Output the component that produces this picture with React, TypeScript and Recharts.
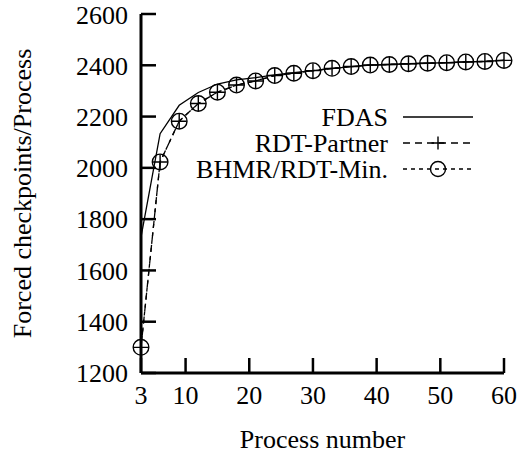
import { LineChart, Line, XAxis, YAxis, Legend } from "recharts";

// measurements per process count
const processCounts = [3, 6, 9, 12, 15, 18, 21, 24, 27, 30, 33, 36, 39, 42, 45, 48, 51, 54, 57, 60];
const fdas = [1730, 2133, 2244, 2294, 2327, 2343, 2352, 2363, 2371, 2379, 2387, 2395, 2401, 2403, 2406, 2408, 2410, 2413, 2415, 2419];
const rdtPartner = [1300, 2023, 2182, 2251, 2295, 2323, 2339, 2360, 2369, 2379, 2388, 2395, 2401, 2403, 2406, 2408, 2410, 2413, 2415, 2419];
const bhmrRdtMin = [1300, 2023, 2182, 2251, 2295, 2323, 2339, 2360, 2369, 2379, 2388, 2395, 2401, 2403, 2406, 2408, 2410, 2413, 2415, 2419];

const xTicks = [3, 10, 20, 30, 40, 50, 60];
const yTicks = [1200, 1400, 1600, 1800, 2000, 2200, 2400, 2600];

const data = processCounts.map((proc, i) => ({
  proc,
  fdas: fdas[i],
  rdtPartner: rdtPartner[i],
  bhmr: bhmrRdtMin[i],
}));

const FONT = '"Liberation Serif", "Times New Roman", serif';
const FS = 26;
const INK = "#000";

const plusPath = (cx: number, cy: number, s: number) =>
  `M${cx - s},${cy}H${cx + s}M${cx},${cy - s}V${cy + s}`;

const PlusDot = (props: any) => {
  const { cx, cy, index } = props;
  if (cx == null || cy == null) return null;
  return (
    <path key={`p-${index}`} d={plusPath(cx, cy, 7.5)} stroke={INK} strokeWidth={1.4} fill="none" />
  );
};

const CircleDot = (props: any) => {
  const { cx, cy, index } = props;
  if (cx == null || cy == null) return null;
  return <circle key={`c-${index}`} cx={cx} cy={cy} r={7.8} stroke={INK} strokeWidth={1.4} fill="none" />;
};

const legendItems = [
  { label: "FDAS", dash: undefined as string | undefined, marker: "none" },
  { label: "RDT-Partner", dash: "7 5", marker: "plus" },
  { label: "BHMR/RDT-Min.", dash: "4 4", marker: "circle" },
];

const renderLegend = () => (
  <svg width={522} height={80} style={{ display: "block" }}>
    {legendItems.map((item, i) => {
      const cy = 13 + i * 26;
      return (
        <g key={item.label}>
          <text
            x={388}
            y={cy}
            dy="0.35em"
            textAnchor="end"
            fontFamily={FONT}
            fontSize={FS}
            fill={INK}
          >
            {item.label}
          </text>
          <line x1={403} x2={473} y1={cy} y2={cy} stroke={INK} strokeWidth={1.3} strokeDasharray={item.dash} />
          {item.marker === "plus" && (
            <path d={plusPath(438, cy, 6.5)} stroke={INK} strokeWidth={1.4} fill="none" />
          )}
          {item.marker === "circle" && (
            <circle cx={438} cy={cy} r={7.5} stroke={INK} strokeWidth={1.4} fill="none" />
          )}
        </g>
      );
    })}
  </svg>
);

const tickStyle = { fontFamily: FONT, fontSize: FS, fill: INK };

export default function App() {
  return (
    <div style={{ position: "absolute", left: 0, top: 0, background: "#fff" }}>
      <LineChart
        width={522}
        height={457}
        data={data}
        margin={{ top: 14, right: 18, bottom: 0, left: 0 }}
      >
        <XAxis
          dataKey="proc"
          type="number"
          domain={[3, 60]}
          ticks={xTicks}
          height={84}
          tickSize={-15}
          tickMargin={28}
          tick={tickStyle}
          axisLine={{ stroke: INK, strokeWidth: 3 }}
          tickLine={{ stroke: INK, strokeWidth: 2.5 }}
          label={{
            content: ({ viewBox }: any) => (
              <text
                x={viewBox.x + viewBox.width / 2}
                y={448}
                textAnchor="middle"
                fontFamily={FONT}
                fontSize={FS}
                fill={INK}
              >
                Process number
              </text>
            ),
          }}
        />
        <XAxis
          xAxisId="top"
          orientation="top"
          type="number"
          domain={[3, 60]}
          allowDataOverflow
          ticks={xTicks}
          height={0}
          tickSize={-15}
          tick={false}
          axisLine={{ stroke: INK, strokeWidth: 3 }}
          tickLine={{ stroke: INK, strokeWidth: 2.5 }}
        />
        <YAxis
          type="number"
          domain={[1200, 2600]}
          ticks={yTicks}
          width={141}
          tickSize={-15}
          tickMargin={28}
          tick={tickStyle}
          axisLine={{ stroke: INK, strokeWidth: 3 }}
          tickLine={{ stroke: INK, strokeWidth: 2.5 }}
          label={{
            content: ({ viewBox }: any) => {
              const cx = 22;
              const cy = viewBox.y + viewBox.height / 2;
              return (
                <text
                  x={cx}
                  y={cy}
                  dy="0.35em"
                  transform={`rotate(-90 ${cx} ${cy})`}
                  textAnchor="middle"
                  fontFamily={FONT}
                  fontSize={FS}
                  fill={INK}
                >
                  Forced checkpoints/Process
                </text>
              );
            },
          }}
        />
        <YAxis
          yAxisId="right"
          orientation="right"
          type="number"
          domain={[1200, 2600]}
          allowDataOverflow
          ticks={yTicks}
          width={0}
          tickSize={-15}
          tick={false}
          axisLine={{ stroke: INK, strokeWidth: 3 }}
          tickLine={{ stroke: INK, strokeWidth: 2.5 }}
        />
        <Legend
          layout="horizontal"
          verticalAlign="middle"
          align="center"
          content={renderLegend}
          wrapperStyle={{ left: 0, top: 104, width: 522, height: 80 }}
        />
        <Line
          dataKey="fdas"
          name="FDAS"
          type="linear"
          stroke={INK}
          strokeWidth={1.3}
          dot={false}
          isAnimationActive={false}
        />
        <Line
          dataKey="rdtPartner"
          name="RDT-Partner"
          type="linear"
          stroke={INK}
          strokeWidth={1.3}
          strokeDasharray="7 5"
          dot={PlusDot}
          isAnimationActive={false}
        />
        <Line
          dataKey="bhmr"
          name="BHMR/RDT-Min."
          type="linear"
          stroke={INK}
          strokeWidth={1.3}
          strokeDasharray="4 4"
          dot={CircleDot}
          isAnimationActive={false}
        />
      </LineChart>
    </div>
  );
}
